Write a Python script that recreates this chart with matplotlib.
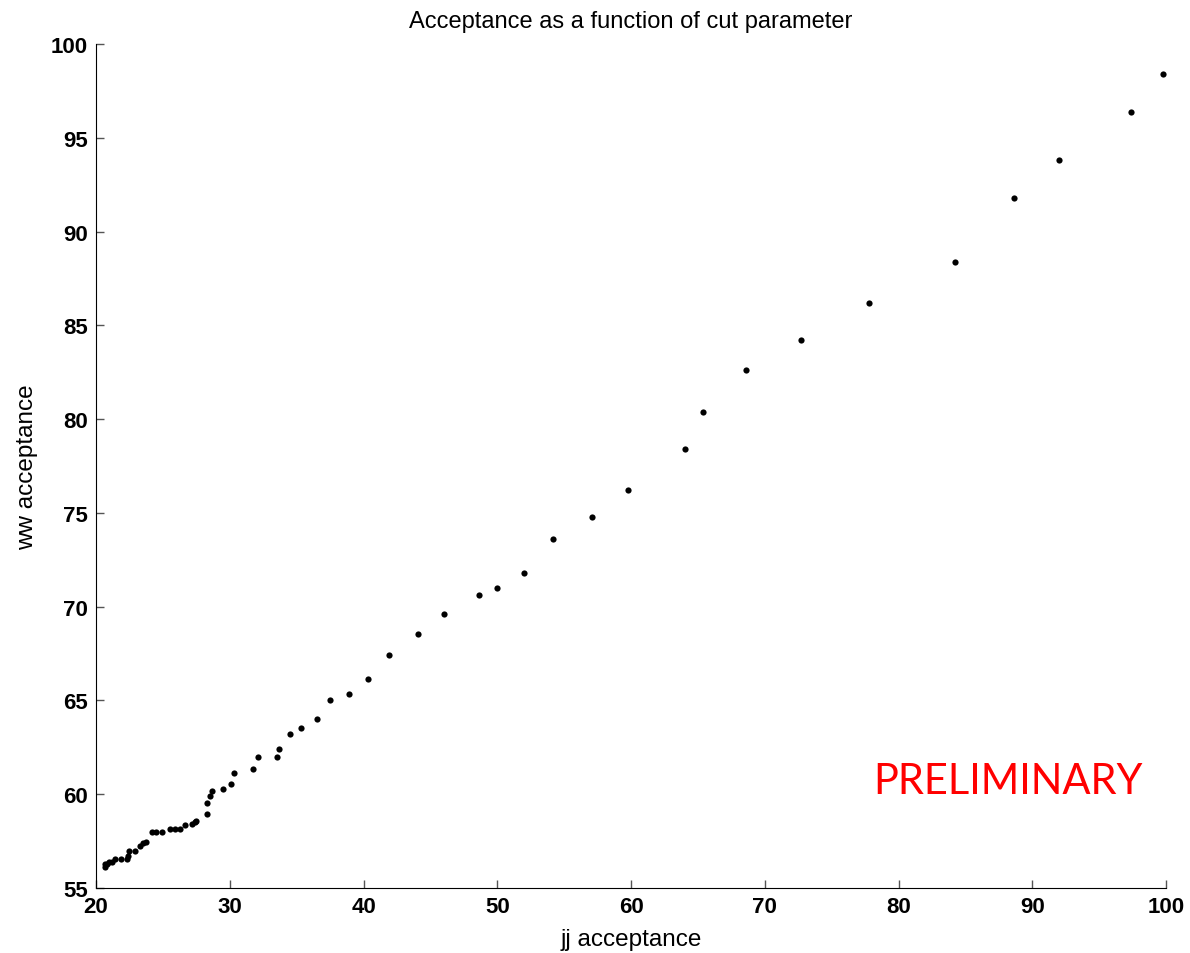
import matplotlib
matplotlib.use("Agg")
import matplotlib.pyplot as plt

# jj acceptance (x) vs ww acceptance (y)
jj_acc = [99.8, 97.4, 92.0, 88.6, 84.2, 77.8, 72.7, 68.6, 65.4, 64.0,
          59.8, 57.1, 54.2, 52.0, 50.0, 48.6, 46.0, 44.1, 41.9, 40.3,
          38.9, 37.5, 36.5, 35.3, 34.5, 33.7, 33.5, 32.1, 31.7, 30.3,
          30.1, 29.5, 28.7, 28.5, 28.3, 28.3,
          27.5, 27.4, 27.15, 26.65, 26.3, 25.9, 25.5, 24.9, 24.5, 24.2,
          23.7, 23.5, 23.3, 22.9, 22.5, 22.4, 22.3, 21.9, 21.4, 21.2,
          21.0, 20.8, 20.7, 20.7]
ww_acc = [98.4, 96.4, 93.8, 91.8, 88.4, 86.2, 84.2, 82.6, 80.4, 78.4,
          76.2, 74.8, 73.6, 71.8, 71.0, 70.6, 69.6, 68.55, 67.4, 66.15,
          65.35, 65.0, 64.0, 63.55, 63.2, 62.4, 62.0, 62.0, 61.35, 61.15,
          60.55, 60.3, 60.15, 59.9, 59.55, 58.95,
          58.55, 58.5, 58.4, 58.35, 58.15, 58.15, 58.15, 58.0, 58.0, 58.0,
          57.45, 57.4, 57.25, 57.0, 56.95, 56.7, 56.55, 56.55, 56.55, 56.4,
          56.4, 56.3, 56.3, 56.1]

x_ticks = list(range(20, 101, 10))
y_ticks = list(range(55, 101, 5))

fig = plt.figure(figsize=(11.9, 9.54), dpi=100)
ax = fig.add_axes([0.0807, 0.0681, 0.8992, 0.8847])

ax.scatter(jj_acc, ww_acc, s=20, color="black", linewidths=0, zorder=3)

ax.set_xlim(20, 100)
ax.set_ylim(55, 100)
ax.set_xticks(x_ticks)
ax.set_yticks(y_ticks)
for lab in ax.get_xticklabels() + ax.get_yticklabels():
    lab.set_fontfamily("Liberation Sans")
    lab.set_fontweight("bold")
    lab.set_fontsize(16)
ax.tick_params(direction="in", length=6, width=1, color="#555555", pad=6)

ax.spines["top"].set_visible(False)
ax.spines["right"].set_visible(False)

ax.set_title("Acceptance as a function of cut parameter", family="Liberation Sans",
             fontsize=17, pad=12)
ax.set_xlabel("jj acceptance", family="Liberation Sans", fontsize=17.5, labelpad=8)
ax.set_ylabel("ww acceptance", family="Liberation Sans", fontsize=17.5, labelpad=9)

ax.text(88.2, 60.7, "PRELIMINARY", color="red", family="Lato", fontsize=30,
        ha="center", va="center")

fig.savefig("out.png", dpi=100)
